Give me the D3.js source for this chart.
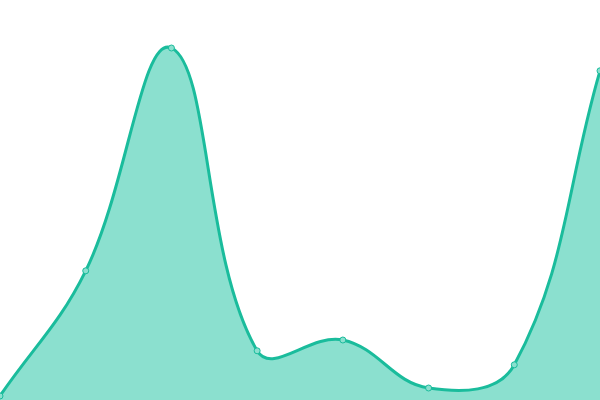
<!DOCTYPE html>
<html>
<head>
<meta charset="utf-8">
<script src="https://cdn.jsdelivr.net/npm/d3@7"></script>
<style>
  html, body { margin: 0; padding: 0; background: #fff; }
</style>
</head>
<body>
<div id="container"></div>
<script>
var w = 600, h = 400,
    tension = 0.4;

// values
var indexes = [0, 1, 2, 3, 4, 5, 6, 7];
var values = [1, 32.3, 88, 12.3, 15, 3, 8.8, 82.3];

var svg = d3.select('#container').append('svg')
    .attr('width', w)
    .attr('height', h);

var xScale = d3.scaleLinear()
    .domain([0, indexes.length - 1])
    .range([0, w]);

var yScale = d3.scaleLinear()
    .domain([0, 100])
    .range([h, 0]);

var pts = indexes.map((d, i) => [xScale(d), yScale(values[i])]);

// spline control points, distance weighted (like the usual "tension" smoothing)
function controls(p) {
    return p.map((cur, i) => {
        var prev = p[i - 1] || cur,
            next = p[i + 1] || cur;
        var d01 = Math.hypot(cur[0] - prev[0], cur[1] - prev[1]),
            d12 = Math.hypot(next[0] - cur[0], next[1] - cur[1]);
        var s01 = d01 / (d01 + d12), s12 = d12 / (d01 + d12);
        if (isNaN(s01)) s01 = 0;
        if (isNaN(s12)) s12 = 0;
        var fa = tension * s01, fb = tension * s12;
        var cp = [cur[0] - fa * (next[0] - prev[0]), cur[1] - fa * (next[1] - prev[1])],
            cn = [cur[0] + fb * (next[0] - prev[0]), cur[1] + fb * (next[1] - prev[1])];
        // keep inside the chart
        cp[1] = Math.max(0, Math.min(h, cp[1]));
        cn[1] = Math.max(0, Math.min(h, cn[1]));
        return {prev: cp, next: cn};
    });
}

function splinePath(p, closeToBase) {
    var c = controls(p), path = d3.path();
    path.moveTo(p[0][0], p[0][1]);
    for (var i = 1; i < p.length; i++) {
        path.bezierCurveTo(c[i - 1].next[0], c[i - 1].next[1], c[i].prev[0], c[i].prev[1], p[i][0], p[i][1]);
    }
    if (closeToBase) {
        path.lineTo(p[p.length - 1][0], yScale(0));
        path.lineTo(p[0][0], yScale(0));
        path.closePath();
    }
    return path.toString();
}

svg.append('path')
    .attr('d', splinePath(pts, true))
    .style('fill', '#8be0cf');

svg.append('path')
    .attr('d', splinePath(pts, false))
    .style('fill', 'none')
    .style('stroke', '#1abc9c')
    .style('stroke-width', 3);

svg.selectAll('circle')
    .data(pts)
    .enter().append('circle')
        .attr('cx', d => d[0])
        .attr('cy', d => d[1])
        .attr('r', 3)
        .style('fill', '#8be0cf')
        .style('stroke', '#1abc9c')
        .style('stroke-width', 1);
</script>
</body>
</html>
